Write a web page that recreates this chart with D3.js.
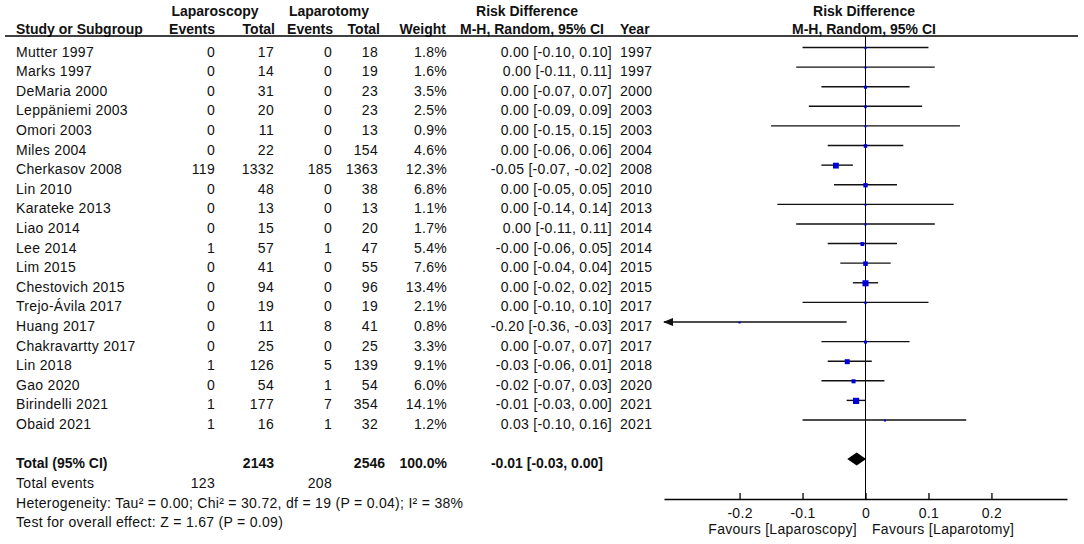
<!DOCTYPE html>
<html>
<head>
<meta charset="utf-8">
<script src="https://cdn.jsdelivr.net/npm/d3@7"></script>
<style>
  body { margin: 0; background: #fff; }
  svg text { font-family: "Liberation Sans", Arial, sans-serif; font-size: 14px; fill: #111; letter-spacing: 0.3px; }
  .b { font-weight: bold; letter-spacing: 0; }
</style>
</head>
<body>
<div id="graph"></div>
<script>
// study data
const studies = ["Mutter 1997", "Marks 1997", "DeMaria 2000", "Leppäniemi 2003", "Omori 2003", "Miles 2004",
  "Cherkasov 2008", "Lin 2010", "Karateke 2013", "Liao 2014", "Lee 2014", "Lim 2015", "Chestovich 2015",
  "Trejo-Ávila 2017", "Huang 2017", "Chakravartty 2017", "Lin 2018", "Gao 2020", "Birindelli 2021", "Obaid 2021"];
const lapEvents = [0, 0, 0, 0, 0, 0, 119, 0, 0, 0, 1, 0, 0, 0, 0, 0, 1, 0, 1, 1];
const lapTotal = [17, 14, 31, 20, 11, 22, 1332, 48, 13, 15, 57, 41, 94, 19, 11, 25, 126, 54, 177, 16];
const otoEvents = [0, 0, 0, 0, 0, 0, 185, 0, 0, 0, 1, 0, 0, 0, 8, 0, 5, 1, 7, 1];
const otoTotal = [18, 19, 23, 23, 13, 154, 1363, 38, 13, 20, 47, 55, 96, 19, 41, 25, 139, 54, 354, 32];
const weights = [1.8, 1.6, 3.5, 2.5, 0.9, 4.6, 12.3, 6.8, 1.1, 1.7, 5.4, 7.6, 13.4, 2.1, 0.8, 3.3, 9.1, 6.0, 14.1, 1.2];
const rd = [0, 0, 0, 0, 0, 0, -0.047, 0, 0, 0, -0.005, 0, 0, 0, -0.20, 0, -0.029, -0.019, -0.015, 0.031];
const lo = [-0.10, -0.11, -0.07, -0.09, -0.15, -0.06, -0.07, -0.05, -0.14, -0.11, -0.06, -0.04, -0.02, -0.10, -0.36, -0.07, -0.06, -0.07, -0.03, -0.10];
const hi = [0.10, 0.11, 0.07, 0.09, 0.15, 0.06, -0.02, 0.05, 0.14, 0.11, 0.05, 0.04, 0.02, 0.10, -0.03, 0.07, 0.01, 0.03, 0.00, 0.16];
const ciLabels = ["0.00 [-0.10, 0.10]", "0.00 [-0.11, 0.11]", "0.00 [-0.07, 0.07]", "0.00 [-0.09, 0.09]",
  "0.00 [-0.15, 0.15]", "0.00 [-0.06, 0.06]", "-0.05 [-0.07, -0.02]", "0.00 [-0.05, 0.05]", "0.00 [-0.14, 0.14]",
  "0.00 [-0.11, 0.11]", "-0.00 [-0.06, 0.05]", "0.00 [-0.04, 0.04]", "0.00 [-0.02, 0.02]", "0.00 [-0.10, 0.10]",
  "-0.20 [-0.36, -0.03]", "0.00 [-0.07, 0.07]", "-0.03 [-0.06, 0.01]", "-0.02 [-0.07, 0.03]", "-0.01 [-0.03, 0.00]",
  "0.03 [-0.10, 0.16]"];
const years = [1997, 1997, 2000, 2003, 2003, 2004, 2008, 2010, 2013, 2014, 2014, 2015, 2015, 2017, 2017, 2017, 2018, 2020, 2021, 2021];

// pooled result
const total = { lapTotal: 2143, otoTotal: 2546, weight: "100.0%", rd: -0.014, lo: -0.029, hi: 0.001, label: "-0.01 [-0.03, 0.00]" };
const totalEvents = [123, 208];
const footLines = ["Heterogeneity: Tau² = 0.00; Chi² = 30.72, df = 19 (P = 0.04); I² = 38%",
  "Test for overall effect: Z = 1.67 (P = 0.09)"];
const tickValues = [-0.2, -0.1, 0, 0.1, 0.2];
const tickLabels = ["-0.2", "-0.1", "0", "0.1", "0.2"];

const svgWidth = 1084;
const svgHeight = 544;

const svg = d3.select("#graph").append("svg")
  .attr("width", svgWidth)
  .attr("height", svgHeight);

// scales
const xScale = d3.scaleLinear().domain([-0.32, 0.32]).range([664, 1067]);
const yScale = d3.scaleLinear().domain([0, studies.length - 1]).range([47.5, 420]);
const sizeScale = d3.scaleSqrt().domain([0, 14.1]).range([0, 6.2]);
const totalY = 459;
const axisY = 499;
const textDy = 9;

// header
const head1 = [
  { t: "Laparoscopy", x: 215, a: "middle" },
  { t: "Laparotomy", x: 329, a: "middle" },
  { t: "Risk Difference", x: 527, a: "middle" },
  { t: "Risk Difference", x: 864, a: "middle" },
];
const head2 = [
  { t: "Study or Subgroup", x: 16, a: "start" },
  { t: "Events", x: 215, a: "end" },
  { t: "Total", x: 275, a: "end" },
  { t: "Events", x: 333, a: "end" },
  { t: "Total", x: 380, a: "end" },
  { t: "Weight", x: 446, a: "end" },
  { t: "M-H, Random, 95% CI", x: 532, a: "middle" },
  { t: "Year", x: 620, a: "start" },
  { t: "M-H, Random, 95% CI", x: 864, a: "middle" },
];
svg.selectAll(".h1").data(head1).enter().append("text")
  .attr("class", "b").attr("x", d => d.x).attr("y", 16)
  .attr("text-anchor", d => d.a).text(d => d.t);
svg.selectAll(".h2").data(head2).enter().append("text")
  .attr("class", "b").attr("x", d => d.x).attr("y", 34)
  .attr("text-anchor", d => d.a).text(d => d.t);

svg.append("line")
  .attr("x1", 5).attr("x2", 1078).attr("y1", 36).attr("y2", 36)
  .attr("stroke", "#000").attr("stroke-width", 1.5);

// table rows
const cols = [
  { v: studies, x: 16, a: "start" },
  { v: lapEvents, x: 215, a: "end" },
  { v: lapTotal, x: 274, a: "end" },
  { v: otoEvents, x: 332, a: "end" },
  { v: otoTotal, x: 378, a: "end" },
  { v: weights.map(w => w.toFixed(1) + "%"), x: 447, a: "end" },
  { v: ciLabels, x: 612, a: "end" },
  { v: years, x: 620, a: "start" },
];
cols.forEach(c => {
  svg.append("g").selectAll("text").data(c.v).enter().append("text")
    .attr("x", c.x).attr("y", (d, i) => yScale(i) + textDy)
    .attr("text-anchor", c.a).text(d => d);
});

// total row and footer
const totalRow = [
  { t: "Total (95% CI)", x: 16, a: "start" },
  { t: total.lapTotal, x: 274, a: "end" },
  { t: total.otoTotal, x: 385, a: "end" },
  { t: total.weight, x: 447, a: "end" },
  { t: total.label, x: 603, a: "end" },
];
svg.selectAll(".tr").data(totalRow).enter().append("text")
  .attr("class", "b").attr("x", d => d.x).attr("y", totalY + textDy)
  .attr("text-anchor", d => d.a).text(d => d.t);

svg.append("text").attr("x", 16).attr("y", 488).text("Total events");
svg.append("text").attr("x", 215).attr("y", 488).attr("text-anchor", "end").text(totalEvents[0]);
svg.append("text").attr("x", 332).attr("y", 488).attr("text-anchor", "end").text(totalEvents[1]);
svg.selectAll(".ft").data(footLines).enter().append("text")
  .attr("x", 16).attr("y", (d, i) => 507.5 + i * 19.5).text(d => d);

// zero line
svg.append("line")
  .attr("x1", xScale(0)).attr("x2", xScale(0)).attr("y1", 36).attr("y2", axisY)
  .attr("stroke", "#000").attr("stroke-width", 1);

// ci lines, clipped at axis ends with arrows
const [dMin, dMax] = xScale.domain();
const plot = svg.append("g");
studies.forEach((s, i) => {
  const y = yScale(i);
  const l = Math.max(lo[i], dMin);
  const h = Math.min(hi[i], dMax);
  plot.append("line")
    .attr("x1", xScale(l)).attr("x2", xScale(h)).attr("y1", y).attr("y2", y)
    .attr("stroke", "#111").attr("stroke-width", 1.4);
  if (lo[i] < dMin) {
    const x0 = xScale(dMin);
    plot.append("path")
      .attr("d", `M${x0 - 1},${y} L${x0 + 9},${y - 4} L${x0 + 9},${y + 4} Z`)
      .attr("fill", "#111");
  }
  if (hi[i] > dMax) {
    const x1 = xScale(dMax);
    plot.append("path")
      .attr("d", `M${x1 + 1},${y} L${x1 - 9},${y - 4} L${x1 - 9},${y + 4} Z`)
      .attr("fill", "#111");
  }
  const sz = Math.max(2, sizeScale(weights[i]));
  plot.append("rect")
    .attr("x", xScale(rd[i]) - sz / 2).attr("y", y - sz / 2 + 0.5)
    .attr("width", sz).attr("height", sz)
    .attr("fill", "#0000dd");
});

// pooled diamond
svg.append("path")
  .attr("d", `M${xScale(total.lo)},${totalY} L${xScale(total.rd)},${totalY - 6.5} L${xScale(total.hi)},${totalY} L${xScale(total.rd)},${totalY + 6.5} Z`)
  .attr("fill", "#000");

// x axis
const axis = svg.append("g")
  .attr("transform", `translate(0,${axisY})`)
  .call(d3.axisBottom(xScale)
    .tickValues(tickValues)
    .tickFormat((d, i) => tickLabels[i])
    .tickSizeInner(-6)
    .tickSizeOuter(0)
    .tickPadding(9));
axis.select(".domain").attr("stroke", "#000").attr("stroke-width", 1.5);
axis.selectAll(".tick line").attr("stroke", "#000").attr("stroke-width", 1.3);
axis.selectAll(".tick text")
  .style("font-family", "'Liberation Sans', Arial, sans-serif")
  .style("font-size", "14px").attr("fill", "#111");

svg.append("text").attr("x", 857).attr("y", 534).attr("text-anchor", "end").text("Favours [Laparoscopy]");
svg.append("text").attr("x", 872).attr("y", 534).attr("text-anchor", "start").text("Favours [Laparotomy]");
</script>
</body>
</html>
